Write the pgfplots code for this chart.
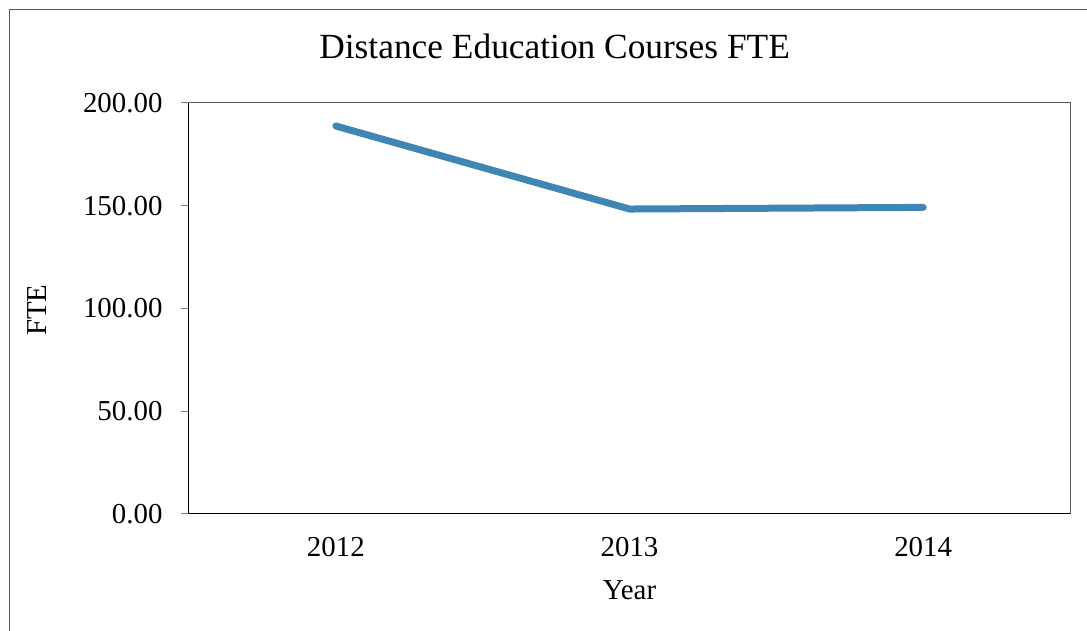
\documentclass[border=0pt]{standalone}
\usepackage{fontspec}
\setmainfont{Liberation Serif}
\usepackage{pgfplots}
\pgfplotsset{compat=1.18}
\definecolor{linec}{RGB}{64,134,180}
\definecolor{framec}{RGB}{90,90,90}
\begin{document}
\begin{tikzpicture}[x=1bp,y=1bp]
\begin{axis}[
  at={(0,0)}, anchor=south west,
  width=881bp, height=411bp, scale only axis,
  xmin=-0.5, xmax=2.5, ymin=0, ymax=200,
  xtick={0,1,2}, xticklabels={2012,2013,2014},
  ytick={0,50,100,150,200},
  axis x line*=bottom, axis y line*=left,
  axis line style={black, line width=1bp, -},
  tick align=outside,
  ytick style={gray, line width=1bp},
  major tick length=8bp,
  xtick style={draw=none},
  /pgf/number format/assume math mode=true,
  yticklabel={\pgfmathprintnumber[fixed,fixed zerofill,precision=2]{\tick}},
  tick label style={font=\fontsize{29}{31}\selectfont},
  yticklabel style={xshift=-15bp},
  xticklabel style={yshift=-12bp},
  title={Distance Education Courses FTE},
  title style={font=\fontsize{35.5}{38}\selectfont, at={(axis description cs:0.415,1.124)}, anchor=center},
  xlabel={Year},
  xlabel style={font=\fontsize{29}{31}\selectfont, at={(axis description cs:0.5,-0.185)}, anchor=center},
  ylabel={FTE},
  ylabel style={font=\fontsize{29}{31}\selectfont, at={(axis description cs:-0.1725,0.496)}, anchor=center},
  clip=false,
]
\draw[framec, line width=1bp] (rel axis cs:0,1) -- (rel axis cs:1,1) -- (rel axis cs:1,0);
\addplot[linec, line width=7bp, line cap=round, line join=round] coordinates {(0,188.8) (1,148.4) (2,149.2)};
\end{axis}
\draw[framec,line width=1.2bp] (-179.5,-117) -- (-179.5,504.5) -- (898,504.5);
\pgfresetboundingbox
\useasboundingbox (-189,-117) rectangle (898,514);
\end{tikzpicture}
\end{document}
